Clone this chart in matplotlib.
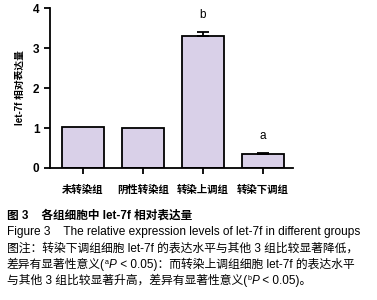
import numpy as np
import matplotlib.pyplot as plt

groups = ['未转染组', '阴性转染组', '转染上调组', '转染下调组']
values = [1.02, 0.99, 3.31, 0.35]
errors = [0.0, 0.0, 0.08, 0.02]
letters = ['', '', 'b', 'a']
letter_y = [0, 0, 3.83, 0.80]

FAM = ['Liberation Sans', 'Noto Sans CJK SC']
plt.rcParams['font.family'] = FAM

fig = plt.figure(figsize=(3.77, 3.0), dpi=100)
ax = fig.add_axes([0.1326, 0.44, 0.644, 0.533])

x = np.arange(len(groups))
ax.bar(x, values, width=0.7, color='#d9d0e8', edgecolor='black', linewidth=1.3)
ax.errorbar(x[2:], values[2:], yerr=[[0, 0], errors[2:]], fmt='none',
            ecolor='black', elinewidth=1.3, capsize=4.5, capthick=1.3)
for i, t in enumerate(letters):
    if t:
        ax.text(x[i], letter_y[i], t, ha='center', va='center', fontsize=8.5)

ax.set_xlim(-0.55, 3.5)
ax.set_ylim(0, 4)
ax.set_yticks([0, 1, 2, 3, 4])
ax.set_xticks(x)
ax.set_xticklabels(groups, fontsize=7.5, fontweight='bold')
ax.tick_params(axis='y', labelsize=8.5, width=1.3, length=4)
ax.tick_params(axis='x', width=1.3, length=4, pad=8)
for lab in ax.get_yticklabels():
    lab.set_fontweight('bold')
ax.spines['top'].set_visible(False)
ax.spines['right'].set_visible(False)
ax.spines['left'].set_linewidth(1.3)
ax.spines['bottom'].set_linewidth(1.3)
ax.set_ylabel('let-7f 相对表达量', fontsize=7, fontweight='bold', labelpad=6)

# caption
fig.text(7 / 377, 1 - 216 / 300, '图 3    各组细胞中 let-7f 相对表达量',
         fontsize=8.4, fontweight='bold', va='center')
fig.text(7 / 377, 1 - 232 / 300,
         'Figure 3    The relative expression levels of let-7f in different groups',
         fontsize=8.55, va='center')

renderer = fig.canvas.get_renderer()


def line(y, parts, size=8.5):
    xpos = 7
    for s, kind in parts:
        kw = dict(fontsize=size, va='baseline')
        yy = y
        if kind == 'sup':
            kw['fontsize'] = size * 0.6
            yy = y - 4
        elif kind == 'it':
            kw['style'] = 'italic'
        t = fig.text(xpos / 377, 1 - yy / 300, s, **kw)
        bb = t.get_window_extent(renderer)
        xpos += bb.width * 377 / fig.bbox.width


line(252, [('图注：转染下调组细胞 let-7f 的表达水平与其他 3 组比较显著降低，', 'n')])
line(268, [('差异有显著性意义(', 'n'), ('a', 'sup'), ('P', 'it'),
           (' < 0.05)：而转染上调组细胞 let-7f 的表达水平', 'n')])
line(284, [('与其他 3 组比较显著升高，差异有显著性意义(', 'n'), ('b', 'sup'),
           ('P', 'it'), (' < 0.05)。', 'n')])

fig.savefig('out.png', dpi=100)
